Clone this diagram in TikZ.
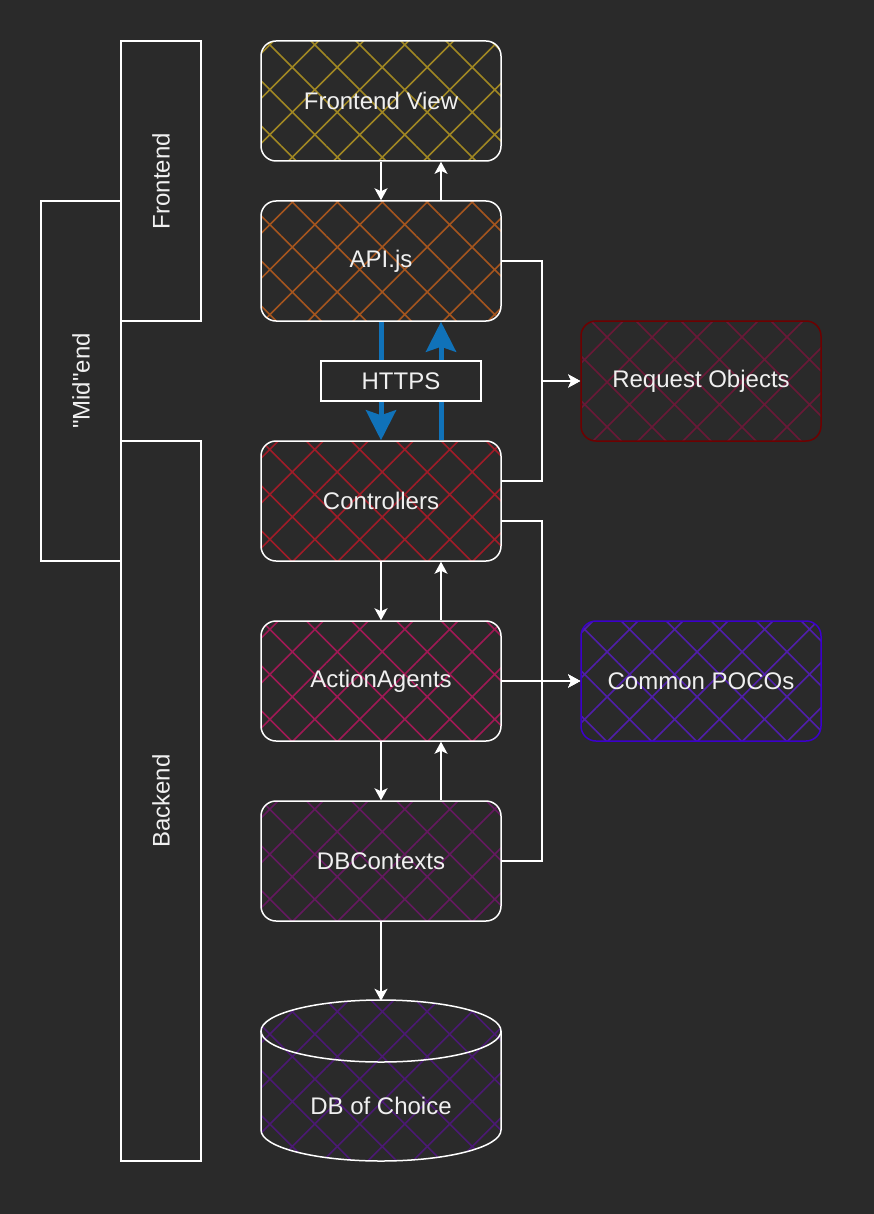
\documentclass[tikz,border=0pt]{standalone}
\usepackage{fontspec}
\setmainfont{Liberation Sans}
\newfontfamily\plainsans{Liberation Sans}
\usetikzlibrary{arrows.meta,patterns.meta,calc}

\definecolor{bg}{RGB}{42,42,42}
\definecolor{txt}{RGB}{240,240,240}
\definecolor{cfv}{RGB}{160,135,35}
\definecolor{capi}{RGB}{165,85,30}
\definecolor{cctl}{RGB}{160,28,40}
\definecolor{caa}{RGB}{160,25,85}
\definecolor{cdbc}{RGB}{100,25,95}
\definecolor{cdb}{RGB}{75,25,115}
\definecolor{creqline}{RGB}{110,0,0}
\definecolor{creq}{RGB}{105,25,55}
\definecolor{cpocoline}{RGB}{60,0,205}
\definecolor{cpoco}{RGB}{80,30,170}
\definecolor{chttps}{RGB}{16,114,185}

\tikzset{
  lbl/.style={text=txt, font=\fontsize{24}{28}\selectfont},
  hatch/.style={pattern={Hatch[angle=45,distance=31.8pt,line width=1.6pt]}, pattern color=#1},
  box/.style={lbl, draw=white, line width=1.5pt, rounded corners=15pt,
    minimum width=240pt, minimum height=120pt},
  band/.style={lbl, draw=white, line width=1.5pt, rotate=90, minimum height=80pt},
  link/.style={draw=white, line width=1.5pt, -{Stealth[length=12pt,width=13pt,inset=3pt]}},
  wire/.style={draw=white, line width=1.5pt},
  web/.style={draw=chttps, line width=5pt, -{Stealth[length=30pt,width=30pt,inset=5pt]}}
}

\begin{document}
\begin{tikzpicture}[x=1pt,y=-1pt]
\fill[bg] (0,0) rectangle (874,1214);
\useasboundingbox (0,0) rectangle (874,1214);

% layer bands
\node[band, minimum width=280pt] (feband) at (161,181) {Frontend};
\node[band, minimum width=360pt] (midband) at (81,381) {\plainsans"Mid"end};
\node[band, minimum width=720pt] (beband) at (161,801) {Backend};

% main stack
\node[box, hatch=cfv] (fv) at (381,101) {Frontend View};
\node[box, hatch=capi] (api) at (381,261) {API.js};
\node[box, hatch=cctl] (ctl) at (381,501) {Controllers};
\node[box, hatch=caa] (aa) at (381,681) {ActionAgents};
\node[box, hatch=cdbc] (dbc) at (381,861) {DBContexts};

% side boxes
\node[box, hatch=creq, draw=creqline] (req) at (701,381) {Request Objects};
\node[box, hatch=cpoco, draw=cpocoline] (poco) at (701,681) {Common POCOs};

% database
\path[hatch=cdb] (261,1031) -- (261,1130)
  arc[start angle=180,end angle=0,x radius=120,y radius=31] -- (501,1031)
  arc[start angle=0,end angle=-180,x radius=120,y radius=31] -- cycle;
\draw[wire] (261,1031) -- (261,1130)
  arc[start angle=180,end angle=0,x radius=120,y radius=31] -- (501,1031);
\draw[wire] (381,1031) ellipse[x radius=120,y radius=31];
\node[minimum width=240pt, minimum height=160pt] (db) at (381,1081) {};
\node[lbl] (dbtext) at (381,1106) {DB of Choice};

% stack arrows
\draw[link] (fv.south) -- (api.north);
\draw[link] ($(api.north)+(60,0)$) -- ($(fv.south)+(60,0)$);
\draw[link] (ctl.south) -- (aa.north);
\draw[link] ($(aa.north)+(60,0)$) -- ($(ctl.south)+(60,0)$);
\draw[link] (aa.south) -- (dbc.north);
\draw[link] ($(dbc.north)+(60,0)$) -- ($(aa.south)+(60,0)$);
\draw[link] (dbc.south) -- (db.north);

% http calls
\draw[web] (api.south) -- (ctl.north);
\draw[web] ($(ctl.north)+(60,0)$) -- ($(api.south)+(60,0)$);
\node[lbl, draw=white, fill=bg, line width=1.5pt, minimum width=160pt, minimum height=40pt] (https) at (401,381) {HTTPS};

% shared types
\draw[link] (api.east) -- ++(40,0) |- (req.west);
\draw[link] ($(ctl.east)+(0,-20)$) -- ++(40,0) |- (req.west);
\draw[link] ($(ctl.east)+(0,20)$) -- ++(40,0) |- (poco.west);
\draw[link] (aa.east) -- (poco.west);
\draw[link] (dbc.east) -- ++(40,0) |- (poco.west);
\end{tikzpicture}
\end{document}
